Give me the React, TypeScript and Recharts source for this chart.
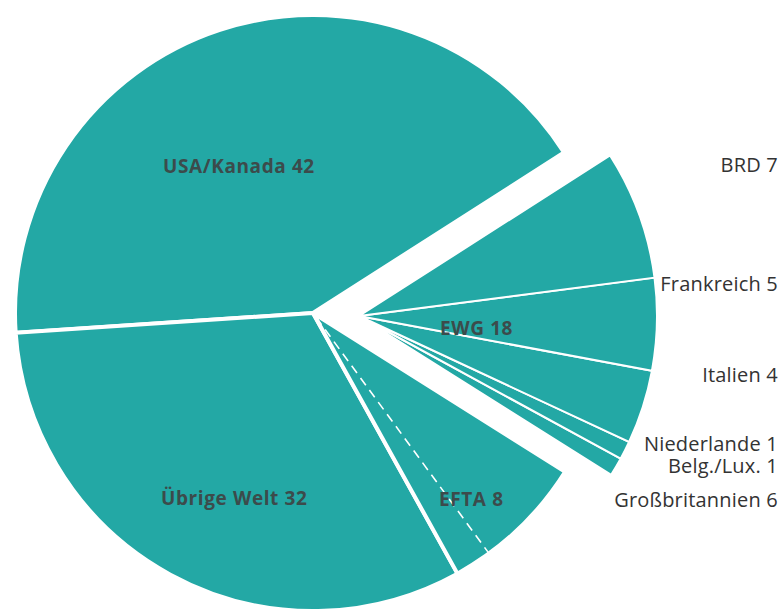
import React from "react";
import { PieChart, Pie, Cell } from "recharts";

// Main regions (percent)
const mainNames = ["USA/Kanada", "Übrige Welt", "EFTA", "EWG"];
const mainValues = [42, 32, 8, 18];

// EFTA split
const eftaNames = ["EFTA übrige", "Großbritannien"];
const eftaValues = [2, 6];

// EWG members (counter-clockwise from bottom)
const ewgNames = ["Belg./Lux.", "Niederlande", "Italien", "Frankreich", "BRD"];
const ewgValues = [1, 1, 4, 5, 7];

const TEAL = "#23a8a5";
const W = 783;
const H = 610;

const mainData = mainNames.map((n, i) => ({ name: n, value: mainValues[i] }));
const splitData = [
  { name: mainNames[0], value: mainValues[0] },
  { name: mainNames[1], value: mainValues[1] },
  { name: eftaNames[0], value: eftaValues[0] },
  { name: eftaNames[1], value: eftaValues[1] },
  { name: mainNames[3], value: mainValues[3] },
];
const ewgData = ewgNames.map((n, i) => ({ name: n, value: ewgValues[i] }));

// label layout (positions only)
const innerLabelPos: Record<string, [number, number]> = {
  "USA/Kanada": [163, 173],
  "Übrige Welt": [161, 505],
  EWG: [440, 335],
  EFTA: [439, 506],
};
const outerLabelY: Record<string, number> = {
  BRD: 172,
  Frankreich: 291,
  Italien: 382,
  Niederlande: 451,
  "Belg./Lux.": 473,
  Großbritannien: 507,
};

const START = 32.6;
const CX = 308;
const CY = 308;
const R = 298;
const EX = 354;
const EY = 311;

export default function App() {
  const outer = [
    ...ewgNames.map((n, i) => ({ name: n, value: ewgValues[i] })),
    { name: eftaNames[1], value: eftaValues[1] },
  ];
  return (
    <div style={{ position: "absolute", left: 0, top: 0, width: W, height: H, background: "#fff" }}>
      <div style={{ position: "absolute", left: 0, top: 0 }}>
        <PieChart width={W} height={H}>
          <Pie
            data={mainData}
            dataKey="value"
            cx={CX}
            cy={CY}
            innerRadius={0}
            outerRadius={R}
            startAngle={START}
            endAngle={START + 360}
            isAnimationActive={false}
            stroke="#fff"
            strokeWidth={4}
          >
            {mainData.map((d) => (
              <Cell
                key={d.name}
                fill={d.name === "EWG" ? "none" : TEAL}
                stroke={d.name === "EWG" ? "none" : "#fff"}
              />
            ))}
          </Pie>
          <Pie
            data={splitData}
            dataKey="value"
            cx={CX}
            cy={CY}
            innerRadius={0}
            outerRadius={R + 8}
            startAngle={START}
            endAngle={START + 360}
            isAnimationActive={false}
          >
            {splitData.map((d) => (
              <Cell
                key={d.name}
                fill="none"
                stroke={d.name === "EFTA übrige" ? "#fff" : "none"}
                strokeWidth={1.6}
                strokeDasharray={d.name === "EFTA übrige" ? "9 6" : undefined}
              />
            ))}
          </Pie>
          <Pie
            data={ewgData}
            dataKey="value"
            cx={EX}
            cy={EY}
            innerRadius={0}
            outerRadius={R}
            startAngle={START - mainValues[3] * 3.6}
            endAngle={START}
            isAnimationActive={false}
            stroke="#fff"
            strokeWidth={2}
          >
            {ewgData.map((d) => (
              <Cell key={d.name} fill={TEAL} stroke="#fff" />
            ))}
          </Pie>
        </PieChart>
      </div>
      <svg
        width={W}
        height={H}
        style={{ position: "absolute", left: 0, top: 0, pointerEvents: "none" }}
      >
        {mainNames.map((n, i) => (
          <text
            key={n}
            x={innerLabelPos[n][0]}
            y={innerLabelPos[n][1]}
            fontFamily="'Open Sans', sans-serif"
            fontWeight={700}
            fontSize={19}
            letterSpacing={0.6}
            fill="#3c4b4b"
          >
            {n} {mainValues[i]}
          </text>
        ))}
        {outer.map((d) => (
          <text
            key={d.name}
            x={778}
            y={outerLabelY[d.name]}
            textAnchor="end"
            fontFamily="'Open Sans', sans-serif"
            fontWeight={400}
            fontSize={20}
            letterSpacing={0.2}
            fill="#333"
          >
            {d.name} {d.value}
          </text>
        ))}
      </svg>
    </div>
  );
}
